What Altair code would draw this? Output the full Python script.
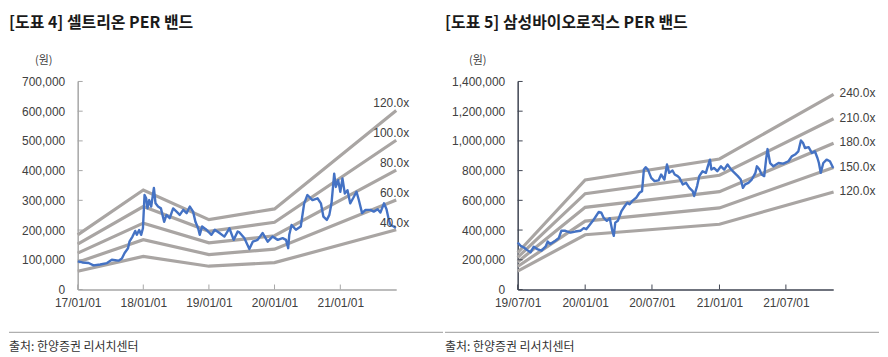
import altair as alt
import pandas as pd

# ---------------- Left: Celltrion PER band ----------------
cel_title = "[도표 4] 셀트리온 PER 밴드"
cel_band_dates = ["2017-01-01", "2018-01-01", "2019-01-01", "2020-01-01", "2021-11-08"]
cel_band_labels = ["120.0x", "100.0x", "80.0x", "60.0x", "40.0x"]
cel_band_120 = [183600, 334800, 235200, 271200, 602400]
cel_band_100 = [153000, 279000, 196000, 226000, 502000]
cel_band_80 = [122400, 223200, 156800, 180800, 401600]
cel_band_60 = [91800, 167400, 117600, 135600, 301200]
cel_band_40 = [61200, 111600, 78400, 90400, 200800]

cel_price_dates = [
    "2017-01-02", "2017-01-27", "2017-03-03", "2017-03-30", "2017-05-06", "2017-06-13",
    "2017-07-10", "2017-08-16", "2017-09-04", "2017-09-19", "2017-10-08", "2017-10-16",
    "2017-11-02", "2017-11-17", "2017-11-26", "2017-12-09", "2017-12-20", "2017-12-30",
    "2018-01-08", "2018-01-17", "2018-01-24", "2018-02-03", "2018-02-14", "2018-03-01",
    "2018-03-10", "2018-03-24", "2018-04-09", "2018-04-27", "2018-05-10", "2018-05-28",
    "2018-06-16", "2018-07-05", "2018-07-23", "2018-08-11", "2018-08-30", "2018-09-17",
    "2018-10-05", "2018-10-18", "2018-11-02", "2018-11-11", "2018-11-24", "2018-12-18",
    "2019-01-15", "2019-02-03", "2019-03-01", "2019-03-28", "2019-04-25", "2019-05-19",
    "2019-06-10", "2019-06-20", "2019-07-17", "2019-08-14", "2019-09-02", "2019-09-29",
    "2019-10-27", "2019-11-24", "2019-12-21", "2020-01-19", "2020-02-15", "2020-03-05",
    "2020-03-17", "2020-03-23", "2020-04-05", "2020-04-29", "2020-05-26", "2020-06-14",
    "2020-07-02", "2020-07-30", "2020-08-27", "2020-09-15", "2020-09-29", "2020-10-18",
    "2020-11-01", "2020-11-13", "2020-11-28", "2020-12-07", "2020-12-20", "2021-01-01",
    "2021-01-13", "2021-01-26", "2021-02-10", "2021-02-25", "2021-03-13", "2021-04-01",
    "2021-04-14", "2021-05-02", "2021-05-21", "2021-06-18", "2021-07-06", "2021-07-28",
    "2021-08-12", "2021-09-01", "2021-09-15", "2021-09-28", "2021-10-07", "2021-10-25",
    "2021-11-06",
]
cel_price_values = [
    95000, 91000, 89000, 81000, 84000, 89000,
    100000, 97000, 104000, 123000, 139000, 161000,
    178000, 197000, 184000, 200000, 184000, 206000,
    318000, 307000, 273000, 301000, 279000, 342000,
    290000, 279000, 273000, 228000, 251000, 240000,
    273000, 262000, 251000, 268000, 257000, 279000,
    262000, 228000, 206000, 184000, 212000, 201000,
    184000, 201000, 190000, 178000, 206000, 167000,
    195000, 192000, 173000, 136000, 161000, 167000,
    190000, 161000, 178000, 167000, 173000, 167000,
    139000, 184000, 217000, 201000, 212000, 290000,
    318000, 301000, 307000, 290000, 245000, 234000,
    251000, 290000, 390000, 345000, 368000, 329000,
    374000, 323000, 334000, 290000, 307000, 329000,
    301000, 257000, 268000, 268000, 262000, 270000,
    259000, 290000, 270000, 234000, 217000, 212000,
    207000,
]
cel_y_ticks = [0, 100000, 200000, 300000, 400000, 500000, 600000, 700000]
cel_x_ticks = ["2017-01-01", "2018-01-01", "2019-01-01", "2020-01-01", "2021-01-01"]
cel_x_domain = ["2017-01-01", "2021-11-08"]

# ---------------- Right: Samsung Biologics PER band ----------------
sb_title = "[도표 5] 삼성바이오로직스 PER 밴드"
sb_band_dates = ["2019-07-01", "2020-01-01", "2021-01-01", "2021-11-08"]
sb_band_labels = ["240.0x", "210.0x", "180.0x", "150.0x", "120.0x"]
sb_band_240 = [247200, 736800, 878400, 1312800]
sb_band_210 = [216300, 644700, 768600, 1148700]
sb_band_180 = [185400, 552600, 658800, 984600]
sb_band_150 = [154500, 460500, 549000, 820500]
sb_band_120 = [123600, 368400, 439200, 656400]

sb_price_dates = [
    "2019-07-01", "2019-07-09", "2019-07-18", "2019-07-27", "2019-08-05", "2019-08-14",
    "2019-08-23", "2019-09-04", "2019-09-15", "2019-09-21", "2019-09-28", "2019-10-12",
    "2019-10-21", "2019-10-28", "2019-11-08", "2019-11-22", "2019-12-05", "2019-12-19",
    "2019-12-28", "2020-01-04", "2020-01-11", "2020-01-22", "2020-01-29", "2020-02-07",
    "2020-02-14", "2020-02-20", "2020-02-29", "2020-03-08", "2020-03-15", "2020-03-19",
    "2020-03-23", "2020-03-30", "2020-04-09", "2020-04-18", "2020-04-25", "2020-05-01",
    "2020-05-10", "2020-05-19", "2020-05-28", "2020-06-04", "2020-06-09", "2020-06-14",
    "2020-06-20", "2020-06-29", "2020-07-08", "2020-07-19", "2020-07-26", "2020-08-04",
    "2020-08-11", "2020-08-17", "2020-08-26", "2020-09-01", "2020-09-09", "2020-09-14",
    "2020-09-23", "2020-10-02", "2020-10-11", "2020-10-20", "2020-10-24", "2020-11-01",
    "2020-11-07", "2020-11-16", "2020-11-25", "2020-11-29", "2020-12-06", "2020-12-10",
    "2020-12-17", "2020-12-26", "2021-01-05", "2021-01-14", "2021-01-23", "2021-02-02",
    "2021-02-11", "2021-02-20", "2021-02-28", "2021-03-06", "2021-03-12", "2021-03-21",
    "2021-03-30", "2021-04-09", "2021-04-13", "2021-04-20", "2021-04-26", "2021-05-03",
    "2021-05-08", "2021-05-12", "2021-05-19", "2021-05-28", "2021-06-11", "2021-06-24",
    "2021-07-08", "2021-07-17", "2021-07-26", "2021-08-04", "2021-08-11", "2021-08-17",
    "2021-08-22", "2021-09-01", "2021-09-10", "2021-09-18", "2021-09-25", "2021-09-29",
    "2021-10-04", "2021-10-11", "2021-10-20", "2021-10-29", "2021-11-07",
]
sb_price_values = [
    316000, 294000, 283000, 265000, 250000, 288000,
    272000, 261000, 288000, 323000, 306000, 328000,
    346000, 395000, 395000, 383000, 390000, 395000,
    413000, 406000, 428000, 462000, 488000, 522000,
    517000, 484000, 462000, 480000, 395000, 361000,
    450000, 462000, 528000, 562000, 584000, 573000,
    600000, 617000, 651000, 662000, 807000, 823000,
    807000, 751000, 729000, 734000, 774000, 740000,
    841000, 785000, 801000, 774000, 763000, 751000,
    707000, 718000, 684000, 662000, 629000, 696000,
    763000, 796000, 785000, 818000, 874000, 807000,
    818000, 796000, 829000, 807000, 841000, 807000,
    785000, 763000, 740000, 684000, 707000, 718000,
    740000, 785000, 829000, 807000, 774000, 763000,
    874000, 945000, 851000, 829000, 851000, 847000,
    863000, 896000, 908000, 930000, 1003000, 985000,
    952000, 958000, 918000, 930000, 885000, 851000,
    785000, 851000, 874000, 863000, 818000,
]
sb_y_ticks = [0, 200000, 400000, 600000, 800000, 1000000, 1200000, 1400000]
sb_x_ticks = ["2019-07-01", "2020-01-01", "2020-07-01", "2021-01-01", "2021-07-01"]
sb_x_domain = ["2019-07-01", "2021-11-07"]

source_text = "출처: 한양증권 리서치센터"
unit_text = "(원)"

BAND_COLOR = "#A9A5A3"
PRICE_COLOR = "#4472C4"
TEXT_COLOR = "#404040"
NUM_FONT = "Liberation Sans"
KR_FONT = "Noto Sans CJK KR"
H = 209


def dt(s):
    y, m, d = (int(p) for p in s.split("-"))
    return alt.DateTime(year=y, month=m, date=d, utc=True)


def panel(title, band_dates, bands, labels, price_dates, price_values, y_ticks,
          x_ticks, x_domain, width, y_max, axis_color, axis_width, lab_align, lab_dx,
          lab_dy, left_ext, right_ext, unit_x):
    band_rows = []
    for lab, vals in zip(labels, bands):
        for d, v in zip(band_dates, vals):
            band_rows.append({"date": d, "value": v, "band": lab})
    band_df = pd.DataFrame(band_rows)
    lab_df = pd.DataFrame({"date": [band_dates[-1]] * len(labels),
                           "value": [b[-1] for b in bands], "band": labels})
    price_df = pd.DataFrame({"date": price_dates, "value": price_values})

    xs = alt.Scale(type="utc", domain=[dt(x_domain[0]), dt(x_domain[1])], nice=False)
    ys = alt.Scale(domain=[0, y_max], nice=False, zero=True)
    xaxis = alt.Axis(values=[dt(t) for t in x_ticks],
                     labelExpr="utcFormat(datum.value, '%y/%m/%d')",
                     ticks=False, grid=False, title=None, domainColor=axis_color,
                     domainWidth=axis_width, labelFont=NUM_FONT, labelFontSize=12,
                     labelColor=TEXT_COLOR, labelPadding=8, labelFlush=False,
                     labelOverlap=False)
    yaxis = alt.Axis(values=y_ticks, format=",d", ticks=False, grid=False, title=None,
                     domainColor=axis_color, domainWidth=axis_width, labelFont=NUM_FONT,
                     labelFontSize=12, labelColor=TEXT_COLOR, labelPadding=13,
                     labelOverlap=False)
    X = alt.X("date:T", scale=xs, axis=xaxis)
    Y = alt.Y("value:Q", scale=ys, axis=yaxis)

    bands_layer = alt.Chart(band_df).mark_line(color=BAND_COLOR, strokeWidth=3.2).encode(
        x=X, y=Y, detail="band:N",
    )
    price_layer = alt.Chart(price_df).mark_line(
        color=PRICE_COLOR, strokeWidth=2.4, strokeJoin="round"
    ).encode(x=X, y=Y)
    label_layer = alt.Chart(lab_df).mark_text(
        align=lab_align, baseline="middle", dx=lab_dx, dy=lab_dy, font=NUM_FONT,
        fontSize=12, color=TEXT_COLOR
    ).encode(x=X, y=Y, text="band:N")

    yt_df = pd.DataFrame({"value": y_ticks})
    ytick_layer = alt.Chart(yt_df).mark_rule(color=axis_color, strokeWidth=1).encode(
        y=Y, x=alt.value(0), x2=alt.value(5))
    xt_df = pd.DataFrame({"date": x_ticks})
    xtick_layer = alt.Chart(xt_df).mark_rule(color=axis_color, strokeWidth=1).encode(
        x=X, y=alt.value(H), y2=alt.value(H - 5))

    title_layer = alt.Chart(pd.DataFrame({"t": [title]})).mark_text(
        align="left", baseline="top", font=KR_FONT, fontSize=16, fontWeight="bold",
        color="#1a1a1a"
    ).encode(x=alt.value(left_ext), y=alt.value(-67), text="t:N")
    unit_layer = alt.Chart(pd.DataFrame({"t": [unit_text]})).mark_text(
        align="center", baseline="middle", font=KR_FONT, fontSize=11, color=TEXT_COLOR
    ).encode(x=alt.value(unit_x), y=alt.value(-21), text="t:N")
    rule_layer = alt.Chart(pd.DataFrame({"a": [0]})).mark_rule(
        color="#9a9a9a", strokeWidth=1
    ).encode(x=alt.value(left_ext), x2=alt.value(right_ext), y=alt.value(252))
    source_layer = alt.Chart(pd.DataFrame({"t": [source_text]})).mark_text(
        align="left", baseline="middle", font=KR_FONT, fontSize=12, color="#333333"
    ).encode(x=alt.value(left_ext), y=alt.value(267), text="t:N")

    return alt.layer(
        bands_layer, price_layer, label_layer, ytick_layer, xtick_layer,
        title_layer, unit_layer, rule_layer, source_layer
    ).properties(width=width, height=H)


left = panel(cel_title, cel_band_dates,
             [cel_band_120, cel_band_100, cel_band_80, cel_band_60, cel_band_40],
             cel_band_labels, cel_price_dates, cel_price_values, cel_y_ticks,
             cel_x_ticks, cel_x_domain, 320, 700000, "#A6A6A6", 1.5,
             "right", 13, -7, -69, 367, -34)
right = panel(sb_title, sb_band_dates,
              [sb_band_240, sb_band_210, sb_band_180, sb_band_150, sb_band_120],
              sb_band_labels, sb_price_dates, sb_price_values, sb_y_ticks,
              sb_x_ticks, sb_x_domain, 317, 1400000, "#3F4552", 1.5,
              "left", 6, -1, -73, 363, -40)

chart = alt.hconcat(left, right, spacing=0).properties(
    padding={"top": 6, "left": 0, "right": 0, "bottom": 0}
).configure_view(stroke=None)

chart.save("out.html", embed_options={"renderer": "svg", "actions": False})
